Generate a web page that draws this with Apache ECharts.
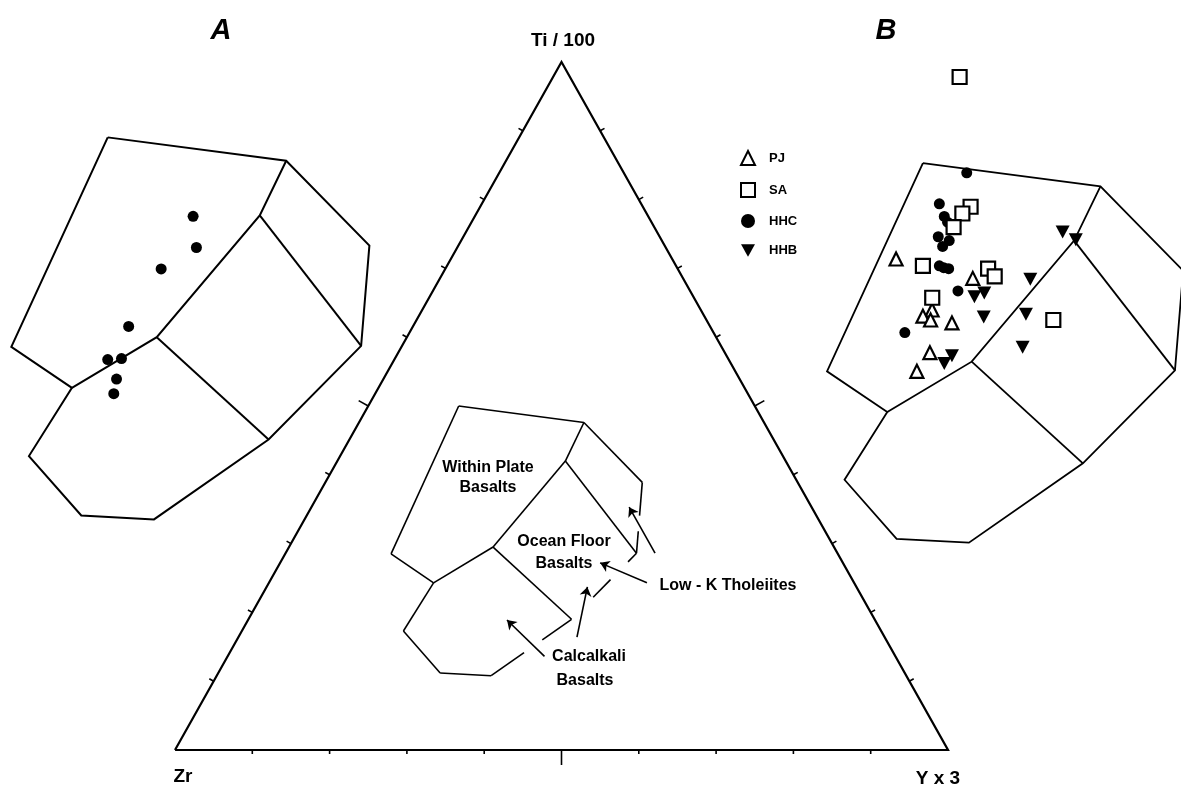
<!DOCTYPE html>
<html>
<head>
<meta charset="utf-8">
<script src="https://cdn.jsdelivr.net/npm/echarts@6/dist/echarts.min.js"></script>
<style>
  html, body { margin: 0; padding: 0; background: #fff; }
  #chart { width: 1181px; height: 794px; }
</style>
</head>
<body>
<div id="chart"></div>
<script>
// Ti-Zr-Y discrimination diagram. Every composition is [Zr, Ti/100, Y*3] in percent.

const tickFractions = [0.1, 0.2, 0.3, 0.4, 0.5, 0.6, 0.7, 0.8, 0.9];

// Corners of the basalt fields
const fieldVertices = {
  wpTop:      [38.3, 50.0, 11.7],
  wpRight:    [23.3, 47.6, 29.1],
  junction:   [28.5, 42.0, 29.5],
  wpLeft:     [57.8, 28.5, 13.7],
  wpBase:     [54.4, 24.3, 21.3],
  triple:     [44.1, 29.5, 26.4],
  ofbCab:     [39.2, 19.0, 41.8],
  lktTop:     [20.1, 38.9, 41.0],
  lktCorner:  [26.0, 28.6, 45.4],
  cabLeft:    [61.8, 17.3, 20.9],
  cabBottomL: [60.1, 11.2, 28.7],
  cabBottomR: [53.7, 10.8, 35.5]
};
const fieldOutline = ['wpTop', 'wpRight', 'lktTop', 'lktCorner', 'ofbCab', 'cabBottomR',
                      'cabBottomL', 'cabLeft', 'wpBase', 'wpLeft', 'wpTop'];
const fieldDividers = [
  ['wpRight', 'junction', 'triple', 'wpBase'],
  ['junction', 'lktCorner'],
  ['triple', 'ofbCab']
];

// Small index diagram: edge pieces [from, to, startFraction, endFraction],
// broken where the label arrows cross
const indexPieces = [
  ['wpTop', 'wpRight', 0, 1], ['wpRight', 'junction', 0, 1], ['junction', 'triple', 0, 1],
  ['triple', 'wpBase', 0, 1], ['wpTop', 'wpLeft', 0, 1], ['wpLeft', 'wpBase', 0, 1],
  ['wpBase', 'cabLeft', 0, 1], ['cabLeft', 'cabBottomL', 0, 1], ['cabBottomL', 'cabBottomR', 0, 1],
  ['cabBottomR', 'ofbCab', 0, 0.409], ['ofbCab', 'cabBottomR', 0, 0.364],
  ['wpRight', 'lktTop', 0, 1], ['lktTop', 'lktCorner', 0, 0.47], ['lktTop', 'lktCorner', 0.69, 1],
  ['junction', 'lktCorner', 0, 1], ['lktCorner', 'ofbCab', 0, 0.13], ['lktCorner', 'ofbCab', 0.40, 0.667],
  ['triple', 'ofbCab', 0, 1]
];

// Label arrows in the index diagram: [tail, head]
const labelArrows = [
  [[23.6, 28.6, 47.8], [23.6, 35.3, 41.1]],
  [[26.8, 24.3, 48.9], [31.4, 27.2, 41.4]],
  [[39.8, 16.4, 43.8], [34.8, 23.7, 41.5]],
  [[45.4, 13.6, 41.0], [47.6, 18.9, 33.5]]
];

// Samples, panel A
const suiteA = [[34.6, 41.9, 23.5], [35.9, 38.7, 25.4], [40.2, 36.5, 23.3], [46.1, 30.6, 23.3],
                [49.7, 27.2, 23.1], [48.4, 27.3, 24.3], [49.9, 25.2, 24.9], [50.9, 23.7, 25.4]];

// Samples, panel B
const pjB = [[45.7, 40.1, 14.2], [39.7, 38.1, 22.2], [45.0, 34.8, 20.1], [46.2, 34.2, 19.6],
             [45.7, 33.8, 20.5], [43.9, 33.5, 22.6], [47.4, 30.4, 22.1], [49.6, 28.5, 21.9]];
const saB = [[30.5, 58.9, 10.6], [36.2, 45.5, 18.3], [37.3, 44.8, 17.9], [38.8, 43.4, 17.8],
             [43.6, 39.4, 17.0], [37.8, 39.1, 23.1], [37.6, 38.3, 24.1], [44.4, 36.1, 19.5],
             [34.5, 33.8, 31.7]];
const hhcB = [[34.8, 49.0, 16.2], [38.9, 45.8, 15.3], [39.1, 44.5, 16.4], [39.1, 43.9, 17.0],
              [40.7, 42.4, 16.9], [39.9, 42.0, 18.1], [40.8, 41.4, 17.8], [42.1, 39.4, 18.5],
              [41.8, 39.2, 19.0], [41.4, 39.1, 19.5], [41.7, 36.8, 21.5], [48.7, 32.5, 18.8]];
const hhbB = [[29.1, 42.9, 28.0], [28.3, 42.1, 29.6], [34.5, 38.0, 27.5], [39.4, 36.6, 24.0],
              [40.5, 36.2, 23.3], [40.7, 34.1, 25.2], [36.7, 34.4, 28.9], [38.7, 31.0, 30.3],
              [45.6, 30.1, 24.3], [46.7, 29.3, 24.0]];

// ---- layout ----
const CANVAS = { w: 1181, h: 794 };
const MAIN = { left: 175, top: 62, width: 773, height: 688 };
// enlarged views: pixel = scale * (index pixel) + shift
const VIEWS = [
  { sx: 1, tx: 0, sy: 1, ty: 0 },
  { sx: 1.4253, tx: -546.05, sy: 1.4165, ty: -437.73 },
  { sx: 1.4177, tx: 272.62, sy: 1.4073, ty: -408.2 }
];
const SANS = '"Liberation Sans", Arial, Helvetica, sans-serif';

// composition -> plane coordinates [x, height], Zr at (0,0), Y*3 at (1,0), Ti at (0.5,1)
function tern(c) {
  const s = c[0] + c[1] + c[2];
  const t = c[1] / s, y = c[2] / s;
  return [y + t / 2, t];
}
function lerp(a, b, f) { return [a[0] + (b[0] - a[0]) * f, a[1] + (b[1] - a[1]) * f]; }

function viewRange(v) {
  const x0 = v.sx * MAIN.left + v.tx, kx = v.sx * MAIN.width;
  const yb = v.sy * (MAIN.top + MAIN.height) + v.ty, ky = v.sy * MAIN.height;
  const ymin = (yb - CANVAS.h) / ky;
  return { xmin: -x0 / kx, xmax: (CANVAS.w - x0) / kx, ymin: ymin, ymax: ymin + CANVAS.h / ky };
}

const grids = [], xAxes = [], yAxes = [];
VIEWS.forEach(function (v, i) {
  const r = viewRange(v);
  grids.push({ left: 0, top: 0, width: CANVAS.w, height: CANVAS.h, containLabel: false });
  xAxes.push({ type: 'value', gridIndex: i, min: r.xmin, max: r.xmax, show: false });
  yAxes.push({ type: 'value', gridIndex: i, min: r.ymin, max: r.ymax, show: false });
});

function linesSeries(idx, polylines, width, z) {
  return {
    type: 'lines', coordinateSystem: 'cartesian2d', xAxisIndex: idx, yAxisIndex: idx,
    polyline: true, silent: true, z: z || 2, animation: false,
    lineStyle: { color: '#000', width: width, opacity: 1, curveness: 0 },
    data: polylines.map(function (p) { return { coords: p }; })
  };
}

// triangle frame and ticks
const corners = [[100, 0, 0], [0, 0, 100], [0, 100, 0]].map(tern);
const frame = [[corners[0], corners[1], corners[2], corners[0]]];

const edgeLen = Math.hypot(MAIN.width / 2, MAIN.height);
const nLeft = [-MAIN.height / edgeLen, -(MAIN.width / 2) / edgeLen];
const nRight = [MAIN.height / edgeLen, -(MAIN.width / 2) / edgeLen];
function tick(p, n, len) {
  return [p, [p[0] + n[0] * len / MAIN.width, p[1] - n[1] * len / MAIN.height]];
}
const ticks = [];
tickFractions.forEach(function (f) {
  const big = Math.abs(f - 0.5) < 1e-9;
  ticks.push(tick(tern([(1 - f) * 100, 0, f * 100]), [0, 1], big ? 15 : 4));
  ticks.push(tick(tern([(1 - f) * 100, f * 100, 0]), nLeft, big ? 11 : 5));
  ticks.push(tick(tern([0, f * 100, (1 - f) * 100]), nRight, big ? 11 : 5));
});

// field outlines
const P = {};
Object.keys(fieldVertices).forEach(function (k) { P[k] = tern(fieldVertices[k]); });
const fullField = [fieldOutline.map(function (k) { return P[k]; })]
  .concat(fieldDividers.map(function (d) { return d.map(function (k) { return P[k]; }); }));
const indexField = indexPieces.map(function (s) {
  return [lerp(P[s[0]], P[s[1]], s[2]), lerp(P[s[0]], P[s[1]], s[3])];
});

const arrowSeries = {
  type: 'lines', coordinateSystem: 'cartesian2d', xAxisIndex: 0, yAxisIndex: 0,
  silent: true, animation: false, z: 3,
  symbol: ['none', 'arrow'], symbolSize: 9,
  lineStyle: { color: '#000', width: 1.6, opacity: 1, curveness: 0 },
  data: labelArrows.map(function (a) { return { coords: [tern(a[0]), tern(a[1])] }; })
};

function scatter(name, idx, data, symbol, size, style, z) {
  return {
    type: 'scatter', name: name, xAxisIndex: idx, yAxisIndex: idx,
    symbol: symbol, symbolSize: size, animation: false, z: z,
    itemStyle: style, data: data.map(tern)
  };
}
const openStyle = { color: '#fff', borderColor: '#000', borderWidth: 2.2, opacity: 1 };
const solidStyle = { color: '#000', borderWidth: 0, opacity: 1 };
const downTri = 'path://M0,0 L10,0 L5,9 Z';

function label(text, x, y, font, align) {
  return {
    type: 'text', x: x, y: y, silent: true, z: 10,
    style: { text: text, font: font, fill: '#000', align: align || 'center', verticalAlign: 'middle' }
  };
}
const fieldFont = 'bold 16px ' + SANS;

const option = {
  backgroundColor: '#fff',
  animation: false,
  grid: grids,
  xAxis: xAxes,
  yAxis: yAxes,
  legend: {
    data: ['PJ', 'SA', 'HHC', 'HHB'],
    orient: 'vertical', left: 735, top: 145,
    itemWidth: 14, itemHeight: 14, itemGap: 16,
    selectedMode: false,
    textStyle: { fontFamily: SANS, fontWeight: 'bold', fontSize: 13, color: '#000', padding: [0, 0, 0, 9] }
  },
  graphic: [
    label('A', 221, 31, 'italic bold 29px ' + SANS),
    label('B', 886, 31, 'italic bold 29px ' + SANS),
    label('Ti / 100', 563, 41, 'bold 19px ' + SANS),
    label('Zr', 183, 777, 'bold 19px ' + SANS),
    label('Y x 3', 938, 779, 'bold 19px ' + SANS),
    label('Within Plate', 488, 468, fieldFont),
    label('Basalts', 488, 488, fieldFont),
    label('Ocean Floor', 564, 542, fieldFont),
    label('Basalts', 564, 564, fieldFont),
    label('Low - K Tholeiites', 728, 586, fieldFont),
    label('Calcalkali', 589, 657, fieldFont),
    label('Basalts', 585, 681, fieldFont)
  ],
  series: [
    linesSeries(0, frame, 2.2),
    linesSeries(0, ticks, 1.6),
    linesSeries(0, indexField, 1.6),
    arrowSeries,
    linesSeries(1, fullField, 2),
    linesSeries(2, fullField, 1.8),
    scatter('A', 1, suiteA, 'circle', 11, solidStyle, 5),
    scatter('HHC', 2, hhcB, 'circle', 11, solidStyle, 5),
    scatter('HHB', 2, hhbB, downTri, [14, 13], solidStyle, 6),
    scatter('PJ', 2, pjB, 'triangle', 13, openStyle, 7),
    scatter('SA', 2, saB, 'rect', 14, openStyle, 8)
  ]
};

const chart = echarts.init(document.getElementById('chart'), null, { renderer: 'canvas' });
chart.setOption(option);
</script>
</body>
</html>
